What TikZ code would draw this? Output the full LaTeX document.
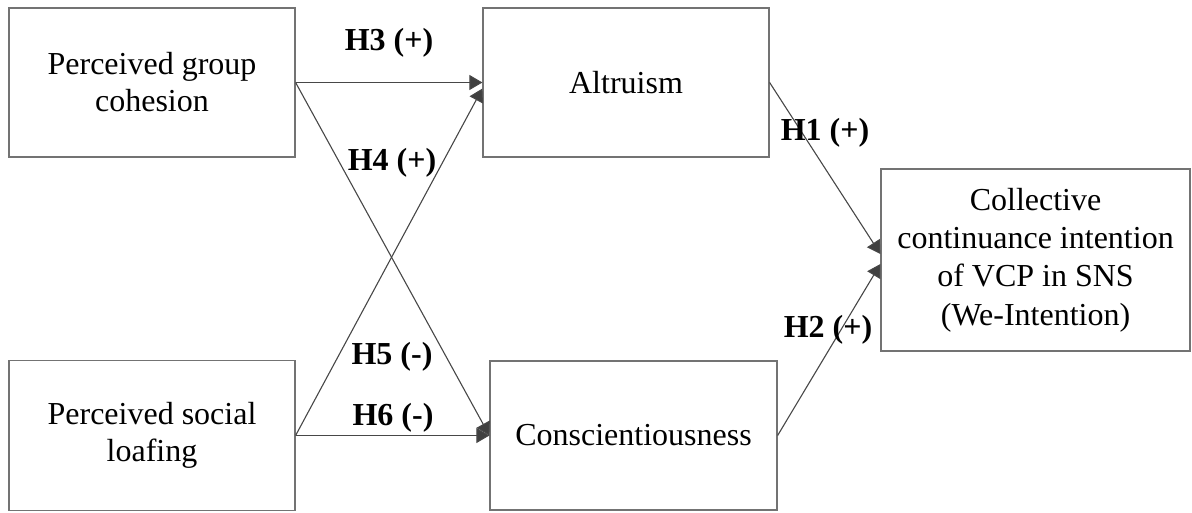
\documentclass[tikz,border=0pt]{standalone}
\usepackage{fontspec}
\setmainfont{Liberation Serif}
\usetikzlibrary{arrows.meta}
\begin{document}
\begin{tikzpicture}[x=0.5pt,y=-0.5pt,
  box/.style={draw=black!55,line width=0.6pt,fill=white,align=center,inner sep=0pt,
    font=\fontsize{16}{18.5}\selectfont},
  link/.style={draw=black!72,line width=0.55pt,-{Triangle[length=6.5pt,width=7.5pt,fill=black!75]}},
  hyp/.style={font=\fontsize{16}{18}\selectfont\bfseries,inner sep=0pt}]
\useasboundingbox (0,0) rectangle (1192,513);
\node[box,minimum width=143pt,minimum height=74.5pt] (pgc) at (152,82.5) {Perceived group\\cohesion};
\node[box,minimum width=143pt,minimum height=74.5pt] (alt) at (626,82.5) {Altruism};
\node[box,minimum width=143pt,minimum height=75pt] (psl) at (152,435.5) {Perceived social\\loafing};
\node[box,minimum width=143.5pt,minimum height=74.5pt] (con) at (633.5,435.5) {Conscientiousness};
\node[box,minimum width=154.5pt,minimum height=91pt,font=\fontsize{16}{19.2}\selectfont] (we) at (1035.5,260) {Collective\\continuance intention\\of VCP in SNS\\(We-Intention)};
\draw[link] (pgc.east) -- (alt.west);
\draw[link] (pgc.east) -- (con.west);
\draw[link] (psl.east) -- ([yshift=-3pt]alt.west);
\draw[link] (psl.east) -- (con.west);
\draw[link] (alt.east) -- ([yshift=3pt]we.west);
\draw[link] (con.east) -- ([yshift=-2pt]we.west);
\node[hyp] (h3) at (389,43) {H3 (+)};
\node[hyp] (h4) at (392,163) {H4 (+)};
\node[hyp] (h5) at (392,357) {H5 (-)};
\node[hyp] (h6) at (393,418) {H6 (-)};
\node[hyp] (h1) at (825,133) {H1 (+)};
\node[hyp] (h2) at (828,330) {H2 (+)};
\end{tikzpicture}
\end{document}
